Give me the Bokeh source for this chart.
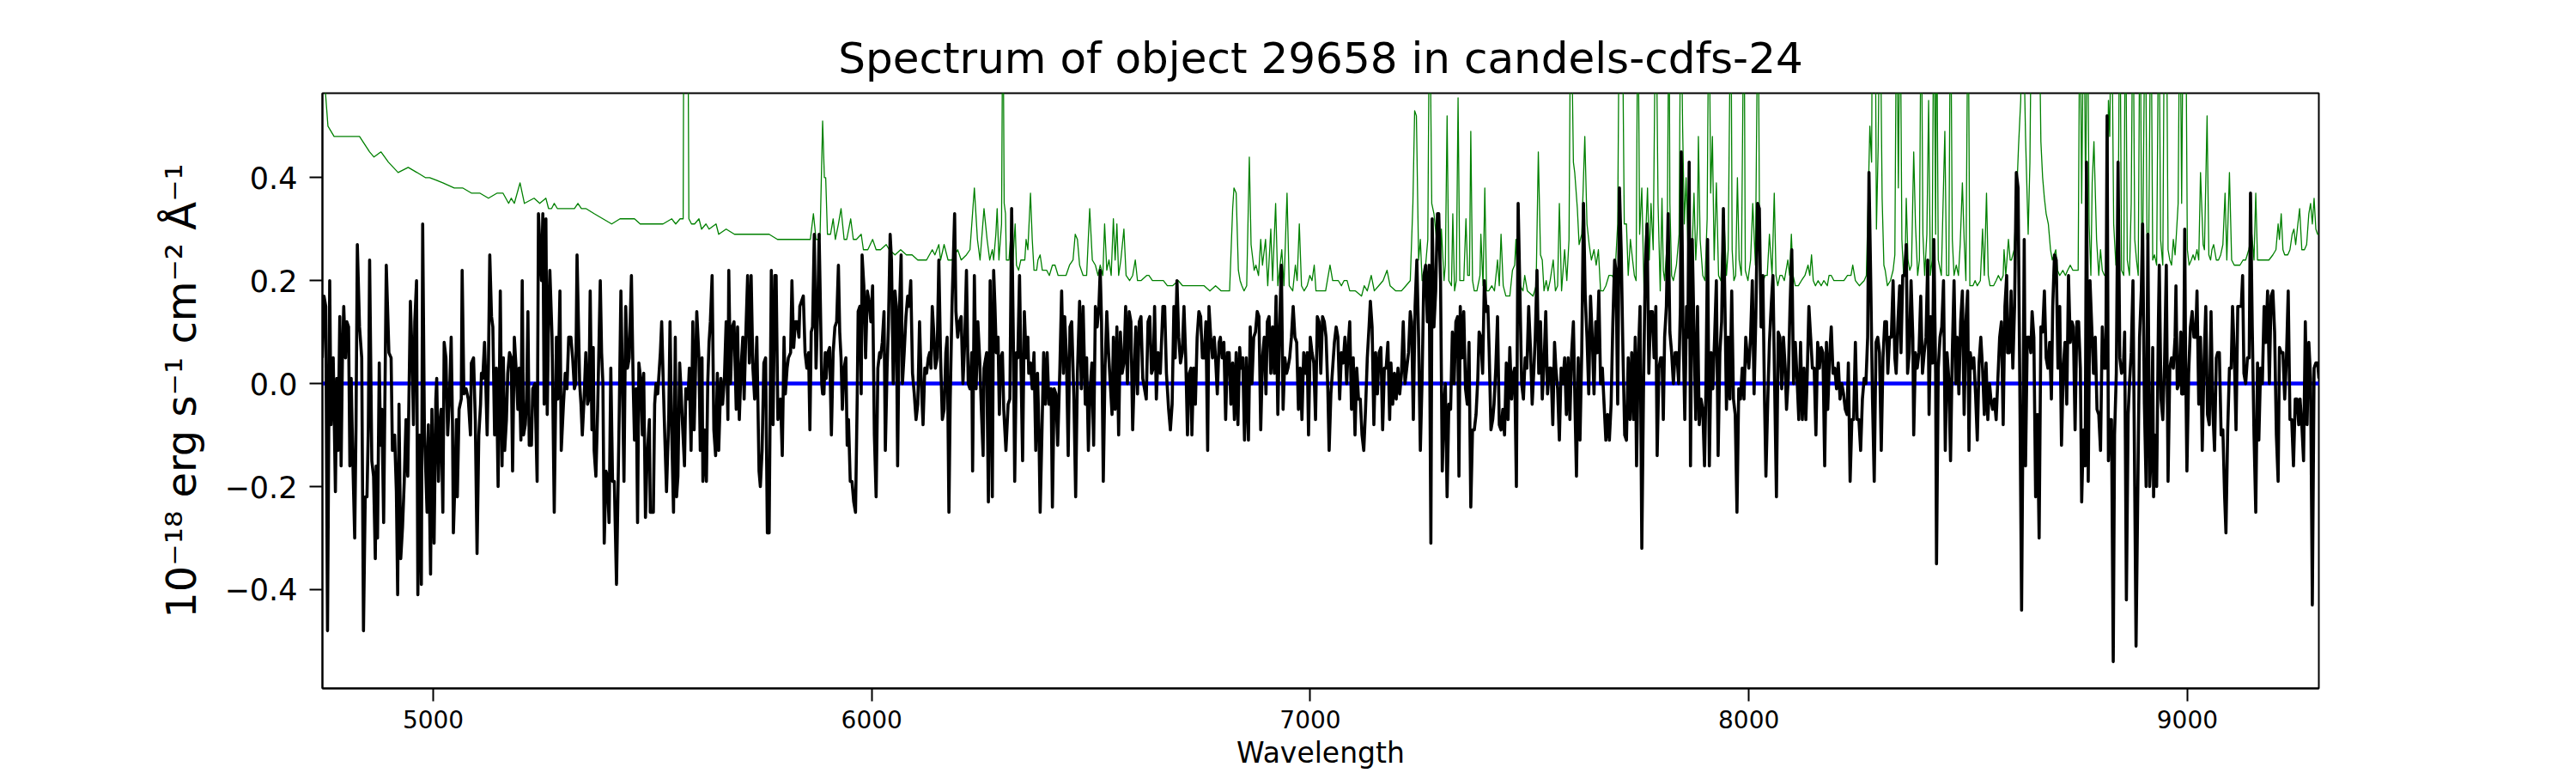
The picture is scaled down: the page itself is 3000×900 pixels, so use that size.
from bokeh.plotting import figure
from bokeh.models import FixedTicker, Range1d
from bokeh.embed import file_html
from bokeh.resources import INLINE

title_text = "Spectrum of object 29658 in candels-cdfs-24"
x_label = "Wavelength"
y_label = "10\u207b\u00b9\u2078 erg s\u207b\u00b9 cm\u207b\u00b2 \u00c5\u207b\u00b9"

x_limits = [4747.4, 9299.8]
y_limits = [-0.592, 0.564]
x_ticks = [5000, 6000, 7000, 8000, 9000]
x_tick_labels = ["5000", "6000", "7000", "8000", "9000"]
y_ticks = [-0.4, -0.2, 0.0, 0.2, 0.4]
y_tick_labels = ["\u22120.4", "\u22120.2", "0.0", "0.2", "0.4"]

# observed spectrum (black): (wavelength [A], flux [1e-18 erg/s/cm2/A])
spectrum = [
    (4747,0.05),(4751,0.17),(4755,0.15),(4759,-0.48),(4764,0.20),(4767,-0.08),(4772,0.05),(4777,-0.21),(4780,0.01),(4783,-0.13),
    (4787,0.13),(4790,-0.16),(4793,0.05),(4796,0.15),(4800,0.05),(4803,0.12),(4807,0.11),(4810,-0.16),(4813,0.01),(4817,-0.16),
    (4821,-0.30),(4824,-0.08),(4827,0.27),(4832,0.11),(4837,0.05),(4841,-0.48),(4845,-0.22),(4849,-0.22),(4852,-0.09),(4855,0.24),
    (4860,-0.15),(4864,-0.18),(4868,-0.34),(4870,-0.16),(4873,-0.30),(4877,0.04),(4880,-0.12),(4883,-0.05),(4887,-0.27),(4893,0.23),
    (4899,0.06),(4904,0.05),(4907,-0.13),(4912,-0.10),(4916,-0.21),(4919,-0.41),(4922,-0.04),(4926,-0.34),(4930,-0.28),(4934,-0.19),
    (4938,-0.07),(4942,-0.18),(4948,0.16),(4952,0.05),(4955,-0.08),(4958,0.12),(4962,0.20),(4965,-0.41),(4969,-0.10),(4973,-0.39),
    (4976,0.31),(4980,-0.09),(4986,-0.25),(4989,-0.08),(4994,-0.37),(4997,-0.05),(5002,-0.31),(5006,-0.03),(5008,0.01),(5012,-0.19),
    (5015,-0.08),(5018,-0.05),(5022,-0.25),(5025,0.08),(5029,0.05),(5033,-0.10),(5037,-0.03),(5041,0.09),(5044,-0.08),(5046,-0.29),
    (5050,-0.18),(5053,-0.07),(5055,-0.22),(5059,-0.05),(5064,-0.03),(5066,0.22),(5070,-0.02),(5075,-0.01),(5080,-0.03),(5085,-0.10),
    (5087,0.04),(5092,0.05),(5096,-0.07),(5100,-0.33),(5104,-0.10),(5108,-0.04),(5110,0.02),(5113,0.01),(5117,0.08),(5119,0.03),
    (5123,-0.10),(5126,0.04),(5129,0.25),(5133,0.13),(5136,0.11),(5140,-0.10),(5144,0.03),(5148,-0.20),(5151,0.01),(5153,0.18),
    (5157,-0.16),(5160,0.05),(5163,-0.13),(5167,-0.07),(5170,0.02),(5174,0.06),(5178,0.05),(5181,-0.17),(5185,0.09),(5189,0.03),
    (5193,-0.05),(5196,0.03),(5200,-0.11),(5203,0.20),(5206,-0.10),(5210,-0.08),(5213,-0.03),(5216,0.14),(5219,-0.12),(5224,-0.12),
    (5227,-0.01),(5232,0.00),(5237,-0.19),(5240,0.33),(5243,0.27),(5247,0.20),(5250,0.33),(5253,-0.04),
    (5257,0.32),(5260,-0.06),(5263,0.12),(5266,0.22),(5271,0.09),(5276,-0.25),(5281,0.09),(5284,-0.03),(5289,0.18),(5292,-0.13),
    (5297,-0.04),(5301,0.02),(5305,-0.01),(5309,0.09),(5314,0.09),(5318,0.05),(5322,-0.01),(5325,0.00),(5328,0.25),(5334,0.00),
    (5337,-0.04),(5340,-0.10),(5344,-0.03),(5348,0.06),(5352,-0.04),(5355,-0.03),(5358,0.18),(5362,-0.09),(5365,0.07),(5367,-0.13),
    (5371,-0.18),(5375,-0.05),(5381,0.20),(5384,0.06),(5387,0.00),(5390,-0.31),(5394,-0.17),(5397,-0.18),(5401,-0.27),(5405,0.03),
    (5409,-0.19),(5413,-0.19),(5418,-0.39),(5424,-0.07),(5428,0.18),(5431,0.03),(5435,-0.19),(5439,0.15),(5443,0.03),(5447,0.05),
    (5452,0.21),(5456,0.00),(5459,-0.11),(5463,-0.01),(5466,-0.27),(5469,0.04),(5473,0.01),(5477,-0.10),(5480,0.02),(5484,-0.26),
    (5488,-0.14),(5493,-0.07),(5495,-0.25),(5499,-0.25),(5502,-0.25),(5505,-0.04),(5508,0.00),(5512,-0.02),(5518,0.06),(5521,0.12),
    (5525,-0.01),(5528,-0.10),(5532,-0.21),(5537,-0.07),(5540,0.12),(5544,-0.10),(5548,-0.25),(5552,0.09),(5555,-0.22),(5558,-0.18),
    (5562,0.04),(5565,-0.01),(5568,-0.07),(5573,-0.16),(5576,-0.01),(5581,-0.03),(5584,0.03),(5588,-0.13),(5592,0.12),(5595,-0.09),
    (5597,-0.02),(5601,0.14),(5606,0.05),(5609,-0.13),(5613,0.05),(5615,-0.19),(5619,-0.09),(5623,-0.19),(5626,0.00),(5629,0.08),
    (5632,0.12),(5636,0.21),(5640,-0.09),(5644,-0.14),(5648,0.02),(5651,-0.13),(5656,0.01),(5660,-0.04),(5664,0.01),(5668,0.12),
    (5672,-0.07),(5674,0.22),(5678,0.00),(5682,0.11),(5686,0.12),(5691,-0.05),(5694,0.11),(5698,-0.07),(5702,0.03),(5706,0.09),
    (5709,-0.03),(5713,0.10),(5717,0.21),(5721,0.04),(5725,0.21),(5729,0.03),(5733,-0.03),(5738,0.09),(5743,-0.17),(5746,-0.20),
    (5750,-0.13),(5754,0.04),(5758,0.05),(5762,-0.29),
    (5766,-0.29),(5771,0.22),(5775,-0.08),(5779,0.21),(5782,0.21),(5786,-0.07),(5792,-0.03),(5796,-0.14),(5800,0.09),(5803,-0.02),
    (5807,0.03),(5810,0.05),(5815,0.06),(5818,0.20),(5822,0.07),(5826,0.12),(5830,0.12),(5834,0.09),(5836,0.15),(5840,0.16),
    (5844,0.17),(5848,0.06),(5852,0.03),(5856,0.06),(5859,-0.09),(5862,0.10),(5865,0.11),(5869,0.29),(5873,0.03),(5877,0.15),
    (5880,0.29),(5883,0.15),(5886,0.00),(5888,-0.02),(5891,-0.02),(5894,0.06),(5896,0.01),(5900,0.06),(5904,0.07),(5908,-0.10),
    (5912,0.06),(5916,0.11),(5920,0.12),(5924,0.23),(5927,0.10),(5930,0.05),(5933,-0.05),(5937,0.03),(5941,0.05),(5944,-0.12),
    (5947,-0.07),(5951,-0.19),(5955,-0.19),(5959,-0.23),(5963,-0.25),(5967,-0.02),(5969,0.14),(5973,0.15),(5976,-0.02),(5978,0.25),
    (5982,0.19),(5986,0.05),(5990,0.18),(5994,0.16),(5998,0.12),(6002,0.19),(6006,-0.10),(6010,-0.22),(6014,0.03),(6018,0.06),
    (6020,0.05),(6024,0.08),(6028,0.14),(6031,-0.13),(6035,0.03),(6038,0.11),(6042,0.29),(6045,0.24),(6049,0.00),(6053,0.18),
    (6056,0.15),(6059,-0.16),(6063,0.14),(6067,0.25),(6070,0.00),(6074,0.06),(6078,0.13),(6082,0.17),(6085,0.15),(6089,0.20),
    (6093,0.02),(6097,-0.02),(6101,-0.07),(6105,-0.04),(6109,0.12),(6113,0.00),(6117,-0.08),(6121,0.03),(6125,0.02),(6129,0.05),
    (6132,0.06),(6135,0.03),(6138,0.15),(6142,0.09),(6145,0.03),(6149,0.05),(6153,0.24),(6157,0.05),(6161,-0.07),(6165,-0.05),
    (6169,0.06),(6172,0.09),(6176,-0.25),(6179,-0.03),(6183,0.15),(6189,0.33),(6192,0.14),(6196,0.09),(6200,0.12),(6204,0.13),
    (6208,0.00),(6212,0.08),(6216,0.22),(6220,0.00),(6224,-0.01),(6228,0.06),(6230,-0.17),(6234,0.21),(6238,-0.01),(6242,0.12),
    (6246,0.05),(6250,-0.05),(6254,-0.14),(6256,0.03),(6262,0.06),(6266,-0.23),(6270,0.20),
    (6275,-0.22),(6278,0.22),(6281,0.15),(6284,0.06),(6288,0.09),(6291,-0.06),(6294,0.05),(6298,0.06),(6301,-0.05),(6306,-0.13),
    (6311,-0.04),(6315,-0.03),(6319,0.34),(6323,0.08),(6326,-0.19),(6330,0.06),(6333,0.05),(6337,0.21),(6340,0.05),(6344,-0.15),
    (6348,0.14),(6352,0.05),(6356,0.09),(6358,0.02),(6362,0.04),(6366,-0.01),(6370,0.06),(6374,-0.13),(6378,0.02),(6381,-0.08),
    (6384,-0.25),(6388,-0.10),(6392,0.06),(6396,-0.04),(6400,0.06),(6404,-0.04),(6409,-0.01),(6412,-0.24),(6416,-0.01),(6420,-0.02),
    (6424,-0.12),(6429,0.03),(6433,0.18),(6437,0.02),(6440,0.13),(6444,0.05),(6448,-0.14),(6452,0.11),(6456,0.12),(6461,-0.03),
    (6465,-0.22),(6469,0.02),(6474,0.16),(6478,-0.01),(6482,0.15),(6487,-0.04),(6490,0.05),(6494,-0.13),(6498,-0.01),(6502,0.04),
    (6506,-0.12),(6510,0.15),(6514,0.11),(6518,0.15),(6521,0.22),(6524,0.12),(6528,-0.19),(6532,0.03),(6536,0.14),(6540,0.06),
    (6544,0.00),(6548,-0.06),(6551,0.09),(6555,-0.05),(6559,0.11),(6563,-0.10),(6567,0.10),(6571,0.02),(6575,0.04),(6579,0.15),
    (6583,0.00),(6587,0.14),(6591,0.12),(6595,-0.09),(6598,0.00),(6602,0.11),(6606,-0.02),(6610,0.12),(6614,0.13),(6618,0.01),
    (6622,-0.01),(6626,-0.03),(6630,0.12),(6634,0.13),(6638,0.02),(6642,0.03),(6645,0.15),(6649,-0.03),(6653,0.06),(6658,0.02),
    (6664,0.15),(6668,0.15),(6672,0.02),(6677,-0.05),(6681,-0.09),(6685,-0.04),(6689,0.15),(6692,0.05),(6696,0.20),(6700,0.09),
    (6704,0.04),(6708,0.06),(6712,0.15),(6716,0.05),(6720,-0.10),(6724,0.02),(6728,0.03),(6730,-0.10),(6734,0.03),(6738,-0.04),
    (6742,0.09),(6746,0.14),(6750,0.13),(6754,0.05),(6758,0.05),(6762,0.12),(6766,-0.13),(6769,0.15),(6773,0.09),(6777,0.05),
    (6781,0.09),
    (6784,0.05),(6788,-0.02),(6792,0.08),(6795,0.09),(6799,0.05),(6803,0.08),(6807,-0.07),(6811,0.06),(6815,0.06),(6819,-0.04),
    (6823,0.04),(6827,-0.07),(6831,0.06),(6835,-0.08),(6839,0.07),(6842,0.03),(6846,0.05),(6850,-0.11),(6854,0.05),(6859,-0.11),
    (6863,0.11),(6867,0.00),(6871,0.09),(6875,0.10),(6879,0.14),(6883,0.13),(6887,-0.09),(6891,0.05),(6895,0.09),(6899,-0.02),
    (6902,0.12),(6906,0.13),(6910,0.02),(6914,0.11),(6918,0.02),(6922,0.17),(6926,-0.06),(6930,0.11),(6934,0.23),(6938,-0.05),
    (6942,0.05),(6946,0.02),(6949,0.03),(6953,0.05),(6957,0.09),(6961,0.15),(6965,0.09),(6969,0.08),(6973,-0.05),(6977,0.03),
    (6981,-0.07),(6985,0.06),(6989,0.02),(6993,0.06),(6996,-0.10),(7000,0.09),(7004,0.06),(7008,0.04),(7012,-0.07),(7016,0.13),
    (7020,0.12),(7024,0.02),(7028,0.13),(7032,0.12),(7036,0.09),(7040,-0.01),(7043,-0.13),(7047,-0.02),(7051,0.03),(7055,0.08),
    (7059,0.11),(7063,0.09),(7067,-0.03),(7071,0.06),(7075,0.04),(7079,0.09),(7083,0.00),(7087,0.08),(7090,0.12),(7094,-0.05),
    (7098,0.05),(7102,-0.10),(7106,0.03),(7110,-0.03),(7114,-0.03),(7118,-0.10),(7122,-0.13),(7126,-0.05),(7130,0.05),(7134,0.11),
    (7137,0.16),(7141,0.11),(7145,-0.08),(7149,0.06),(7153,-0.02),(7157,0.06),(7161,0.07),(7165,-0.09),(7169,0.03),(7173,0.03),
    (7177,0.08),(7181,-0.07),(7184,0.04),(7188,-0.04),(7192,0.02),(7196,-0.03),(7200,0.03),(7204,-0.02),(7208,0.02),(7212,0.12),
    (7216,0.00),(7220,0.03),(7224,0.06),(7228,0.14),(7231,0.12),(7235,-0.07),(7239,0.15),(7243,0.24),(7247,0.09),(7251,-0.13),
    (7255,0.01),(7259,0.21),(7263,0.23),(7267,0.12),(7271,0.23),(7275,-0.31),(7278,0.32),(7282,0.11),(7286,0.18),(7290,0.33),
    (7293,0.33),(7297,0.20),(7301,-0.17),(7305,-0.04),(7308,0.00),(7312,-0.22),(7316,-0.04),(7320,-0.05),(7324,0.10),(7328,0.00),
    (7332,0.12),(7336,0.13),(7339,-0.18),(7342,0.15),(7346,0.05),(7350,0.14),(7354,-0.01),(7358,-0.04),(7362,0.08),(7366,-0.24),
    (7370,-0.09),(7374,-0.09),(7378,-0.06),(7382,0.01),(7385,0.10),(7389,0.09),(7393,0.02),(7397,0.20),(7401,0.14),(7405,0.15),
    (7408,0.06),(7412,-0.09),(7416,-0.07),(7419,-0.04),(7423,0.03),(7427,0.13),(7431,-0.08),(7435,-0.09),(7439,-0.05),(7443,-0.10),
    (7447,0.04),(7451,-0.07),(7455,0.07),(7459,-0.03),(7463,0.02),(7466,0.03),(7470,-0.20),(7474,0.35),(7478,0.18),(7482,0.00),
    (7486,-0.03),(7490,0.05),(7494,0.03),(7498,0.15),(7502,0.07),(7506,-0.04),(7510,0.03),(7513,0.09),(7517,0.22),(7521,0.02),
    (7525,0.12),(7529,-0.03),(7533,0.04),(7537,0.14),(7541,-0.02),(7545,0.03),(7549,0.03),(7553,-0.08),(7557,0.08),(7560,0.03),
    (7564,-0.01),(7568,-0.11),(7572,0.03),(7576,0.00),(7580,0.05),(7584,-0.06),(7588,0.05),(7592,-0.07),(7596,0.06),(7600,0.12),
    (7604,-0.06),(7607,-0.18),(7611,0.05),(7615,-0.11),(7619,0.06),(7623,0.35),(7627,0.17),(7631,0.09),(7635,-0.02),(7639,0.17),
    (7643,0.09),(7647,-0.02),(7651,0.12),(7654,0.06),(7658,0.18),(7662,0.00),(7666,0.03),(7670,-0.04),(7674,-0.11),(7678,-0.06),
    (7682,-0.11),(7686,-0.04),(7690,0.12),(7694,0.24),(7697,0.22),(7701,-0.04),(7705,0.38),(7709,0.26),(7713,0.06),(7717,-0.10),
    (7721,-0.11),(7725,0.05),(7729,-0.07),(7733,0.06),(7737,-0.07),(7741,0.09),(7744,-0.16),(7748,0.05),(7752,0.15),(7756,-0.32),
    (7760,0.00),(7764,0.23),(7768,0.31),(7772,0.02),(7776,0.14),(7780,0.14),(7784,0.05),(7788,0.15),(7791,-0.14),(7795,0.03),
    (7799,0.05),
    (7802,0.05),(7805,-0.07),(7808,0.09),(7812,0.15),(7816,0.33),(7820,0.10),(7824,0.06),(7828,0.00),(7832,0.06),(7836,0.06),
    (7840,0.00),(7844,0.15),(7846,0.45),(7850,0.11),(7854,-0.07),(7858,0.15),(7861,0.09),(7864,0.43),(7867,-0.16),(7871,0.28),
    (7875,0.10),(7879,-0.07),(7883,0.15),(7887,-0.08),(7891,-0.03),(7895,-0.05),(7899,-0.16),(7902,-0.02),(7906,0.28),(7910,-0.16),
    (7914,0.06),(7918,-0.01),(7922,0.09),(7926,0.20),(7930,-0.14),(7934,0.06),(7938,0.12),(7942,0.34),(7946,0.13),(7949,-0.05),
    (7953,0.09),(7957,-0.03),(7961,0.18),(7965,-0.03),(7969,-0.06),(7973,-0.25),(7977,-0.01),(7981,-0.03),(7985,0.03),(7989,-0.03),
    (7993,0.09),(7996,0.06),(8000,0.03),(8004,0.09),(8008,0.20),(8012,-0.02),(8016,0.13),(8020,0.35),(8024,0.34),(8028,0.11),
    (8032,0.21),(8036,-0.04),(8039,-0.18),(8043,-0.04),(8047,0.08),(8051,0.15),(8055,0.21),(8059,-0.01),(8063,-0.22),(8067,0.10),
    (8071,0.09),(8075,-0.01),(8079,0.09),(8083,0.03),(8086,-0.05),(8090,0.01),(8094,0.15),(8098,0.26),(8102,0.00),(8106,0.08),
    (8110,0.01),(8114,-0.07),(8118,0.08),(8122,-0.07),(8126,0.03),(8130,-0.07),(8133,0.01),(8137,0.15),(8141,0.09),(8145,0.03),
    (8149,0.03),(8153,-0.10),(8157,0.08),(8161,0.03),(8165,0.07),(8169,0.06),(8173,-0.16),(8177,0.08),(8180,-0.05),(8184,0.05),
    (8188,0.11),(8192,0.02),(8196,0.03),(8200,-0.01),(8204,0.04),(8208,-0.03),(8212,0.00),(8216,-0.02),(8220,-0.05),(8224,-0.06),
    (8227,0.04),(8231,-0.19),(8235,-0.07),(8239,-0.07),(8243,0.08),(8247,-0.07),(8251,-0.07),(8255,-0.13),(8259,-0.03),(8263,0.01),
    (8267,0.00),(8271,0.09),(8274,0.41),(8278,0.20),(8282,-0.03),(8286,-0.19),(8290,0.08),(8294,0.09),(8298,0.06),(8302,-0.13),
    (8306,0.05),(8310,0.12),
    (8314,0.12),(8317,0.02),(8321,0.09),(8325,0.09),(8329,0.20),(8333,0.05),(8336,0.02),(8340,0.12),(8344,0.19),(8347,0.06),
    (8351,0.21),(8355,0.21),(8359,0.27),(8362,0.02),(8366,0.06),(8370,0.20),(8374,0.09),(8376,-0.10),(8380,0.06),(8384,0.03),
    (8388,0.06),(8392,0.17),(8396,0.02),(8400,0.06),(8404,0.09),(8408,0.24),(8411,-0.06),(8415,0.13),(8419,0.04),(8422,0.28),
    (8426,0.02),(8428,-0.35),(8432,0.03),(8436,0.09),(8440,0.11),(8444,0.20),(8448,-0.13),(8452,0.06),(8456,0.01),(8460,-0.15),
    (8464,0.06),(8468,0.20),(8472,0.00),(8475,0.09),(8479,-0.02),(8483,0.12),(8487,0.18),(8491,-0.06),(8495,0.12),(8499,0.18),
    (8502,-0.13),(8505,0.06),(8509,0.03),(8513,0.05),(8517,-0.02),(8521,-0.11),(8525,0.04),(8529,0.09),(8533,0.03),(8537,-0.06),
    (8541,0.04),(8545,-0.07),(8549,0.00),(8552,-0.03),(8556,-0.05),(8560,-0.03),(8564,-0.07),(8568,0.01),(8572,0.09),(8576,0.12),
    (8580,-0.08),(8584,0.15),(8588,0.21),(8590,0.06),(8594,0.06),(8598,0.18),(8602,0.03),(8606,0.15),(8610,0.41),(8614,0.38),
    (8618,-0.01),(8622,-0.44),(8626,0.03),(8628,0.28),(8631,-0.16),(8635,0.09),(8639,0.09),(8643,0.06),(8646,0.14),(8650,0.09),
    (8654,-0.22),(8658,-0.06),(8662,-0.30),(8666,0.11),(8670,0.10),(8674,0.18),(8678,0.05),(8682,0.03),(8686,0.08),(8690,-0.03),
    (8693,0.15),(8697,0.25),(8701,0.24),(8705,0.03),(8709,0.15),(8713,-0.12),(8717,0.03),(8721,0.08),(8725,-0.04),(8729,0.21),
    (8733,0.08),(8737,0.12),(8740,0.11),(8744,-0.09),(8748,0.12),(8752,0.12),(8756,0.03),(8759,-0.23),(8763,-0.09),(8767,-0.16),
    (8770,0.43),(8774,-0.19),(8778,0.20),(8782,0.11),(8786,0.02),(8790,0.09),(8794,-0.05),(8798,-0.06),(8802,-0.13),(8806,0.11),
    (8810,0.03),(8814,0.03),(8817,0.52),
    (8820,-0.15),(8823,-0.07),(8827,-0.07),(8831,-0.54),(8834,-0.10),(8838,0.02),(8842,0.43),(8846,0.05),(8850,0.02),(8854,0.03),
    (8857,0.10),(8861,-0.42),(8865,-0.06),(8868,0.00),(8872,0.06),(8876,0.20),(8880,-0.20),(8883,-0.51),(8887,-0.21),(8891,0.09),
    (8895,0.18),(8898,0.31),(8902,-0.04),(8906,-0.20),(8910,0.29),(8914,-0.20),(8918,-0.13),(8921,0.07),(8923,-0.22),(8926,-0.10),
    (8930,-0.20),(8934,0.12),(8936,0.23),(8940,-0.03),(8944,-0.07),(8948,0.04),(8952,0.23),(8956,-0.19),(8960,0.03),(8964,0.05),
    (8968,0.03),(8972,0.09),(8974,0.19),(8977,-0.01),(8981,0.00),(8985,0.10),(8987,-0.02),(8991,-0.02),(8994,0.30),(8996,0.05),
    (8999,-0.17),(9003,0.02),(9007,0.11),(9011,0.14),(9015,0.09),(9019,0.09),(9022,0.18),(9026,-0.04),(9030,0.09),(9034,-0.13),
    (9038,0.04),(9042,0.15),(9046,-0.06),(9050,-0.08),(9054,0.14),(9058,-0.05),(9062,-0.13),(9066,0.05),(9069,0.06),(9073,0.06),
    (9077,-0.10),(9081,-0.09),(9085,-0.22),(9088,-0.29),(9092,-0.09),(9096,0.03),(9100,0.03),(9103,0.15),(9107,0.06),(9111,-0.09),
    (9115,0.15),(9119,0.15),(9123,0.15),(9126,0.21),(9129,0.02),(9133,0.00),(9137,0.05),(9141,0.05),(9144,0.37),(9148,0.11),
    (9152,-0.10),(9156,-0.25),(9160,0.04),(9163,-0.11),(9167,0.03),(9171,0.00),(9175,0.15),(9179,0.08),(9183,0.18),(9187,0.00),
    (9191,0.17),(9195,0.18),(9199,0.10),(9203,-0.10),(9207,-0.19),(9210,0.07),(9214,0.06),(9218,0.06),(9222,-0.03),(9226,0.05),
    (9230,0.18),(9234,-0.07),(9238,-0.07),(9242,-0.16),(9246,-0.03),(9250,-0.03),(9254,-0.08),(9257,-0.03),(9261,-0.08),(9265,-0.15),
    (9269,0.12),(9273,-0.08),(9277,0.08),(9281,0.01),(9285,-0.43),(9289,0.03),(9293,0.04),(9297,0.04),(9300,0.01),
]

# noise / sky spectrum (green)
noise = [
    (4747,0.75),(4753,0.58),(4760,0.50),(4774,0.48),(4787,0.48),(4800,0.48),(4813,0.48),(4832,0.48),(4855,0.45),(4865,0.44),
    (4881,0.45),(4898,0.43),(4920,0.41),(4943,0.42),(4963,0.41),(4982,0.40),(4992,0.40),(5022,0.39),(5048,0.38),(5067,0.38),
    (5087,0.37),(5106,0.37),(5126,0.36),(5146,0.37),(5159,0.37),(5172,0.35),(5178,0.36),(5185,0.35),(5198,0.39),(5208,0.35),
    (5230,0.36),(5243,0.35),
    (5257,0.36),(5263,0.34),(5270,0.34),(5276,0.35),(5283,0.34),(5296,0.34),(5315,0.34),(5322,0.34),(5330,0.35),(5338,0.34),
    (5348,0.34),(5367,0.33),(5387,0.32),(5407,0.31),(5426,0.32),(5446,0.32),(5459,0.32),(5472,0.31),(5498,0.31),(5524,0.31),
    (5544,0.32),(5553,0.31),(5563,0.32),(5570,0.32),(5572,0.90),(5580,0.90),(5583,0.32),(5589,0.31),(5596,0.31),(5606,0.32),
    (5612,0.30),(5622,0.31),(5629,0.30),(5645,0.31),(5651,0.29),(5668,0.30),(5687,0.29),(5707,0.29),(5726,0.29),(5746,0.29),
    (5766,0.29),(5785,0.28),(5805,0.28),(5824,0.28),(5844,0.28),(5860,0.28),(5867,0.33),(5873,0.28),(5882,0.28),(5888,0.51),
    (5892,0.40),(5895,0.40),(5899,0.29),(5906,0.29),(5912,0.32),(5917,0.28),(5924,0.31),(5930,0.34),(5937,0.28),(5943,0.28),
    (5952,0.32),(5958,0.28),(5965,0.28),(5976,0.29),(5981,0.26),(5991,0.26),(6002,0.28),(6010,0.26),(6020,0.26),(6033,0.27),
    (6040,0.26),(6053,0.25),(6066,0.26),(6079,0.25),(6092,0.25),(6105,0.24),(6125,0.24),(6138,0.26),(6144,0.25),(6153,0.27),
    (6157,0.24),(6165,0.27),(6174,0.24),(6183,0.24),(6196,0.26),(6204,0.24),(6216,0.25),(6224,0.26),(6234,0.38),(6241,0.28),
    (6247,0.24),(6256,0.34),(6263,0.28),(6269,0.24),
    (6275,0.26),(6278,0.24),(6283,0.29),(6286,0.34),(6290,0.24),(6296,0.31),(6299,0.80),(6302,0.35),(6305,0.33),(6307,0.24),
    (6313,0.24),(6317,0.29),(6322,0.24),(6327,0.31),(6330,0.23),(6335,0.22),(6340,0.24),(6345,0.24),(6349,0.24),(6352,0.28),
    (6356,0.26),(6362,0.37),(6366,0.28),(6370,0.22),(6376,0.22),(6379,0.24),(6384,0.25),(6389,0.22),(6399,0.22),(6405,0.21),
    (6412,0.23),(6418,0.23),(6425,0.21),(6431,0.21),(6443,0.21),(6451,0.23),(6459,0.24),(6464,0.29),(6469,0.28),(6474,0.23),
    (6482,0.21),(6490,0.21),(6497,0.34),(6503,0.24),(6510,0.23),(6516,0.21),(6521,0.23),(6527,0.21),(6531,0.31),(6536,0.22),
    (6541,0.24),(6546,0.21),(6551,0.32),(6555,0.24),(6559,0.31),(6563,0.21),(6568,0.24),(6575,0.30),(6580,0.21),(6588,0.20),
    (6595,0.21),(6601,0.24),(6606,0.20),(6614,0.20),(6627,0.21),(6632,0.21),(6640,0.20),(6653,0.20),(6665,0.20),(6674,0.19),
    (6686,0.19),(6699,0.20),(6709,0.19),(6719,0.19),(6732,0.19),(6745,0.19),(6758,0.19),(6771,0.18),
    (6784,0.19),(6797,0.18),(6816,0.18),(6823,0.34),(6826,0.38),(6831,0.37),(6836,0.22),(6840,0.20),(6844,0.19),(6849,0.18),
    (6855,0.19),(6861,0.44),(6865,0.27),(6872,0.22),(6876,0.23),(6882,0.21),(6887,0.28),(6891,0.23),(6898,0.28),(6903,0.19),
    (6910,0.30),(6914,0.20),(6921,0.35),(6926,0.19),(6935,0.26),(6940,0.19),(6947,0.37),(6952,0.19),(6960,0.18),(6966,0.23),
    (6970,0.20),(6975,0.31),(6980,0.19),(6986,0.18),(6993,0.19),(6999,0.21),(7004,0.20),(7009,0.23),(7013,0.18),(7025,0.18),
    (7035,0.18),(7045,0.23),(7051,0.20),(7058,0.20),(7064,0.20),(7071,0.19),(7077,0.20),(7084,0.20),(7090,0.18),(7103,0.18),
    (7117,0.17),(7123,0.19),(7130,0.18),(7139,0.21),(7146,0.18),(7156,0.19),(7166,0.20),(7175,0.22),(7182,0.19),(7195,0.18),
    (7208,0.18),(7218,0.19),(7228,0.20),(7234,0.35),(7238,0.53),(7242,0.52),(7247,0.24),(7251,0.28),(7255,0.20),(7260,0.20),
    (7268,0.28),(7272,0.80),(7277,0.35),(7282,0.33),(7288,0.28),
    (7293,0.31),(7296,0.20),(7299,0.30),(7305,0.20),(7308,0.23),(7312,0.52),(7316,0.20),(7322,0.19),(7325,0.33),(7329,0.18),
    (7333,0.20),(7337,0.555),(7341,0.20),(7345,0.20),(7350,0.20),(7355,0.32),(7359,0.21),(7363,0.21),(7366,0.49),(7370,0.20),
    (7374,0.18),(7380,0.18),(7387,0.21),(7389,0.29),(7394,0.19),(7398,0.38),(7402,0.18),(7407,0.18),(7414,0.19),(7420,0.18),
    (7427,0.24),(7431,0.19),(7435,0.29),(7440,0.19),(7446,0.17),(7455,0.17),(7461,0.22),(7466,0.23),(7469,0.28),(7473,0.18),
    (7479,0.19),(7485,0.18),(7489,0.21),(7495,0.18),(7508,0.17),(7515,0.19),(7520,0.45),(7525,0.25),(7529,0.24),(7533,0.18),
    (7538,0.20),(7542,0.18),(7547,0.20),(7554,0.24),(7559,0.18),(7564,0.19),(7568,0.35),(7573,0.18),(7580,0.26),(7585,0.20),
    (7590,0.28),(7594,0.80),(7600,0.43),(7603,0.41),(7609,0.34),(7613,0.27),(7619,0.29),(7626,0.48),(7631,0.31),(7636,0.27),
    (7641,0.24),(7647,0.26),(7652,0.23),(7657,0.26),(7662,0.18),(7668,0.18),(7674,0.19),(7681,0.21),(7688,0.21),(7694,0.20),
    (7701,0.31),(7705,0.80),(7711,0.80),(7716,0.31),(7721,0.31),(7725,0.21),(7730,0.28),(7735,0.24),(7739,0.21),(7743,0.20),
    (7747,0.80),(7751,0.29),(7756,0.38),(7761,0.18),(7765,0.29),(7769,0.38),(7773,0.24),(7777,0.35),(7782,0.26),(7788,0.80),
    (7793,0.35),(7798,0.18),
    (7802,0.36),(7805,0.22),(7808,0.20),(7814,0.28),(7818,0.80),(7820,0.35),(7824,0.21),(7828,0.20),(7835,0.23),(7841,0.29),
    (7845,0.80),(7849,0.50),(7853,0.31),(7857,0.40),(7861,0.27),(7865,0.22),(7870,0.24),(7875,0.37),(7879,0.24),(7883,0.31),
    (7885,0.48),(7889,0.28),(7895,0.21),(7900,0.20),(7905,0.32),(7909,0.80),(7913,0.37),(7917,0.48),(7921,0.24),(7926,0.39),
    (7931,0.21),(7936,0.20),(7940,0.27),(7944,0.31),(7949,0.21),(7953,0.26),(7959,0.80),(7962,0.26),(7966,0.20),(7970,0.21),
    (7974,0.40),(7978,0.24),(7983,0.21),(7989,0.80),(7992,0.22),(7998,0.20),(8004,0.24),(8009,0.35),(8015,0.23),(8021,0.80),
    (8025,0.22),(8030,0.19),(8037,0.21),(8042,0.21),(8047,0.29),(8053,0.21),(8058,0.37),(8062,0.21),(8066,0.19),(8071,0.21),
    (8076,0.21),(8081,0.20),(8085,0.22),(8089,0.24),(8093,0.21),(8097,0.29),(8101,0.21),(8106,0.19),(8113,0.19),(8120,0.20),
    (8128,0.21),(8135,0.23),(8139,0.21),(8143,0.25),(8147,0.20),(8152,0.19),(8158,0.20),(8165,0.19),(8171,0.20),(8179,0.19),
    (8183,0.21),(8188,0.21),(8194,0.20),(8199,0.20),(8204,0.20),(8210,0.20),(8217,0.20),(8225,0.21),(8233,0.21),(8237,0.23),
    (8243,0.20),(8252,0.19),(8263,0.20),(8268,0.21),(8272,0.35),(8276,0.50),(8280,0.43),(8282,0.80),(8288,0.80),(8291,0.30),
    (8295,0.46),(8299,0.80),(8304,0.36),(8308,0.23),
    (8311,0.22),(8316,0.19),(8323,0.20),(8329,0.22),(8333,0.25),(8337,0.80),(8341,0.38),(8345,0.80),(8349,0.28),(8353,0.21),
    (8357,0.26),(8359,0.36),(8363,0.24),(8367,0.22),(8371,0.23),(8376,0.45),(8380,0.31),(8385,0.21),(8389,0.24),(8393,0.80),
    (8397,0.29),(8401,0.21),(8406,0.29),(8410,0.55),(8414,0.21),(8418,0.24),(8422,0.80),(8426,0.29),(8428,0.80),(8432,0.24),
    (8439,0.21),(8443,0.35),(8447,0.49),(8451,0.21),(8456,0.21),(8460,0.80),(8464,0.28),(8468,0.21),(8473,0.23),(8478,0.21),
    (8482,0.27),(8487,0.39),(8491,0.28),(8495,0.20),(8500,0.80),(8504,0.19),(8511,0.19),(8516,0.20),(8521,0.19),(8528,0.20),
    (8533,0.30),(8537,0.21),(8542,0.37),(8546,0.21),(8550,0.19),(8558,0.19),(8564,0.20),(8569,0.21),(8575,0.20),(8580,0.21),
    (8582,0.26),(8586,0.21),(8592,0.28),(8596,0.24),(8599,0.24),(8605,0.26),(8610,0.35),(8615,0.46),(8620,0.55),(8624,0.80),
    (8631,0.48),(8637,0.29),(8641,0.43),(8645,0.80),(8661,0.80),(8666,0.47),(8670,0.40),(8674,0.36),(8678,0.33),(8683,0.31),
    (8688,0.26),(8692,0.24),(8696,0.25),(8700,0.26),(8704,0.22),(8709,0.21),(8716,0.22),(8722,0.21),(8727,0.22),(8733,0.23),
    (8739,0.22),(8744,0.22),(8751,0.22),(8755,0.80),(8759,0.35),(8764,0.80),(8768,0.35),(8772,0.80),(8776,0.31),(8780,0.21),
    (8783,0.39),(8787,0.47),(8793,0.28),(8798,0.21),(8802,0.26),(8806,0.22),(8811,0.21),(8816,0.21),
    (8820,0.55),(8823,0.48),(8827,0.80),(8832,0.31),(8837,0.23),(8842,0.28),(8846,0.80),(8850,0.22),(8855,0.21),(8859,0.80),
    (8863,0.24),(8868,0.21),(8872,0.35),(8876,0.80),(8880,0.28),(8884,0.24),(8888,0.21),(8892,0.80),(8896,0.26),(8898,0.24),
    (8904,0.80),(8908,0.28),(8912,0.28),(8917,0.80),(8921,0.24),(8925,0.25),(8930,0.23),(8935,0.80),(8939,0.28),(8944,0.23),
    (8948,0.80),(8952,0.80),(8956,0.26),(8960,0.24),(8964,0.23),(8968,0.28),(8972,0.25),(8975,0.29),(8979,0.35),(8983,0.80),
    (8987,0.35),(8991,0.80),(8996,0.80),(9000,0.26),(9004,0.23),(9009,0.24),(9013,0.25),(9017,0.24),(9022,0.26),(9026,0.24),
    (9030,0.41),(9036,0.27),(9039,0.26),(9045,0.52),(9049,0.25),(9053,0.24),(9056,0.26),(9060,0.27),(9066,0.24),(9071,0.24),
    (9076,0.25),(9081,0.27),(9086,0.37),(9090,0.24),(9096,0.41),(9101,0.24),(9107,0.23),(9114,0.23),(9120,0.23),(9127,0.24),
    (9133,0.24),(9140,0.26),(9147,0.29),(9152,0.24),(9156,0.37),(9160,0.24),(9166,0.24),(9176,0.24),(9186,0.24),(9195,0.25),
    (9202,0.26),(9207,0.31),(9210,0.28),(9214,0.33),(9218,0.26),(9222,0.25),(9229,0.25),(9234,0.26),(9239,0.29),(9243,0.30),
    (9247,0.27),(9252,0.31),(9256,0.34),(9261,0.26),(9267,0.26),(9272,0.27),(9277,0.33),(9281,0.35),(9285,0.31),(9289,0.36),
    (9293,0.30),(9297,0.29),(9300,0.29),
]

# model (blue)
model_wavelength = [4747, 9300]
model_flux = [0.0, 0.0]

spec_w = [w for w, f in spectrum]
spec_f = [f for w, f in spectrum]
noise_w = [w for w, f in noise]
noise_f = [f for w, f in noise]

FONT = "DejaVu Sans"

p = figure(
    frame_width=2325, frame_height=693,
    min_border_left=375, min_border_right=292, min_border_top=108, min_border_bottom=60,
    x_range=Range1d(*x_limits), y_range=Range1d(*y_limits),
    output_backend="svg", toolbar_location=None, title=title_text,
    background_fill_color="white", border_fill_color="white",
)

p.line(noise_w, noise_f, line_color="#008000", line_width=1.3, line_join="round")
p.line(model_wavelength, model_flux, line_color="#0000ff", line_width=4.5)
p.line(spec_w, spec_f, line_color="black", line_width=3.6, line_join="round")

p.title.text_font = FONT
p.title.text_font_size = "50px"
p.title.text_font_style = "normal"
p.title.align = "center"
p.title.standoff = 24
p.title.text_color = "black"

p.xgrid.visible = False
p.ygrid.visible = False
p.outline_line_color = "black"
p.outline_line_width = 2
p.outline_line_alpha = 1.0

p.xaxis.ticker = FixedTicker(ticks=x_ticks, minor_ticks=[])
p.yaxis.ticker = FixedTicker(ticks=y_ticks, minor_ticks=[])
p.xaxis.major_label_overrides = {t: l for t, l in zip(x_ticks, x_tick_labels)}
p.yaxis.major_label_overrides = {t: l for t, l in zip(y_ticks, y_tick_labels)}

for ax in (p.xaxis[0], p.yaxis[0]):
    ax.axis_line_color = "black"
    ax.axis_line_width = 2
    ax.major_tick_line_color = "black"
    ax.major_tick_line_width = 2
    ax.major_tick_out = 15
    ax.major_tick_in = 0
    ax.minor_tick_out = 0
    ax.minor_tick_in = 0
    ax.major_label_text_font = FONT
    ax.major_label_text_color = "black"
    ax.axis_label_text_font = FONT
    ax.axis_label_text_font_style = "normal"
    ax.axis_label_text_color = "black"

p.xaxis.major_label_text_font_size = "28px"
p.xaxis.major_label_standoff = 10
p.xaxis.axis_label = x_label
p.xaxis.axis_label_text_font_size = "33px"
p.xaxis.axis_label_standoff = 6

p.yaxis.major_label_text_font_size = "35px"
p.yaxis.major_label_standoff = 14
p.yaxis.axis_label = y_label
p.yaxis.axis_label_text_font_size = "48px"
p.yaxis.axis_label_standoff = 20

open("out.html", "w").write(file_html(p, INLINE))
